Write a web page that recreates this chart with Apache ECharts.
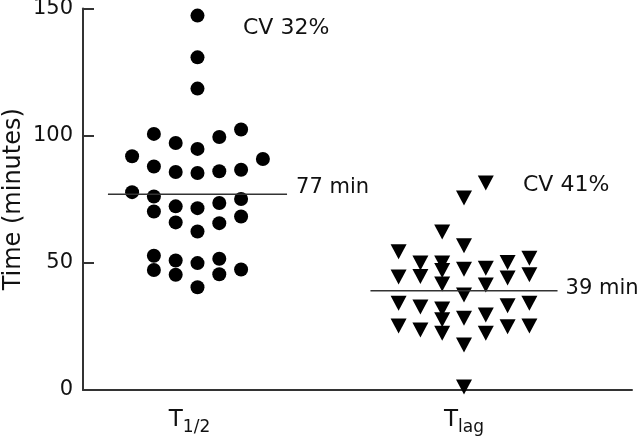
<!DOCTYPE html>
<html>
<head>
<meta charset="utf-8">
<script src="https://cdn.jsdelivr.net/npm/echarts@6/dist/echarts.min.js"></script>
<style>html,body{margin:0;padding:0;background:#fff}#c{width:640px;height:436px}</style>
</head>
<body>
<div id="c"></div>
<script>
// ---- data ----
const categories = ['T1/2', 'Tlag'];
const t12Values = [147.2,130.8,118.5,100.7,102.4,97.1,99.5,94.8,91.9,90.8,87.9,85.7,85.3,86.0,86.6,77.8,76.1,75.1,70.2,72.2,71.5,73.5,68.2,65.9,65.6,62.3,52.8,47.2,50.9,45.3,49.9,51.6,45.5,47.4,40.4];
const t12Lanes  = [0,0,0,-2,2,-1,1,0,-3,3,-2,-1,0,1,2,-3,-2,2,-2,-1,0,1,2,-1,1,0,-2,-2,-1,-1,0,1,1,2,0];
const tlagValues = [62.1,54.4,56.7,49.9,44.6,44.4,49.9,47.0,41.7,47.5,37.4,34.1,32.6,31.8,27.6,22.3,28.2,25.2,23.6,17.7,47.9,41.3,50.1,44.0,51.8,45.3,33.1,34.1,29.5,22.3,24.9,25.2,81.4,75.5,1.2];
const tlagLanes  = [-1,-3,0,-2,-2,-3,-1,-1,-1,0,0,-3,-2,-1,-1,-1,0,-3,-2,0,1,1,2,2,3,3,2,3,1,1,2,3,1,0,0];
const meanValues = [77, 39];
const meanLabels = ['77 min', '39 min'];
const cvLabels = ['CV 32%', 'CV 41%'];
const yTicks = [0, 50, 100, 150];

// ---- layout / style ----
const laneStep = 0.0818;
const meanHalf = [0.336, 0.351];
const axisColor = '#333';
const textColor = '#111';
const font = 'DejaVu Sans';

function pts(vals, lanes, g) {
  return vals.map((v, i) => [g + lanes[i] * laneStep, v]);
}
function meanLine(i) {
  const g = i + 1;
  return [[g - meanHalf[i], meanValues[i]], [g + meanHalf[i], meanValues[i]]];
}

const chart = echarts.init(document.getElementById('c'), null, {renderer: 'canvas'});
chart.setOption({
  animation: false,
  backgroundColor: '#fff',
  grid: {left: 83, right: 8, top: 8.5, bottom: 46, containLabel: false, outerBoundsMode: 'none'},
  xAxis: {
    type: 'value', min: 0.5704, max: 2.6304,
    splitLine: {show: false},
    axisLine: {show: true, lineStyle: {color: axisColor, width: 2}},
    axisTick: {show: false},
    axisLabel: {
      show: true, customValues: [1, 2], margin: 15,
      formatter: function (v) {
        const c = categories[Math.round(v) - 1];
        if (c === 'T1/2') return '{t|T}{h|1/2}';
        return '{t|T}{s|lag}';
      },
      rich: {
        t: {fontFamily: font, fontSize: 23, color: textColor},
        s: {fontFamily: font, fontSize: 17, color: textColor, padding: [14, 0, 0, 0]},
        h: {fontFamily: font, fontSize: 17, color: textColor, padding: [14, 16, 0, 0]}
      }
    }
  },
  yAxis: {
    type: 'value', min: yTicks[0], max: yTicks[yTicks.length - 1], interval: 50,
    splitLine: {show: false},
    axisLine: {show: true, lineStyle: {color: axisColor, width: 2}},
    axisTick: {show: true, inside: true, length: 11, lineStyle: {color: axisColor, width: 2}},
    axisLabel: {fontFamily: font, fontSize: 21, color: textColor, margin: 10},
    name: 'Time (minutes)', nameLocation: 'middle', nameGap: 57, nameMoveOverlap: false,
    nameTextStyle: {fontFamily: font, fontSize: 24, color: textColor}
  },
  series: [
    {type: 'scatter', data: pts(t12Values, t12Lanes, 1), symbol: 'circle', symbolSize: 14,
     itemStyle: {color: '#000', opacity: 1}},
    {type: 'scatter', data: pts(tlagValues, tlagLanes, 2), symbol: 'triangle', symbolRotate: 180,
     symbolSize: [16, 15], itemStyle: {color: '#000', opacity: 1}},
    {type: 'line', data: meanLine(0), symbol: 'none', lineStyle: {color: axisColor, width: 1.5},
     endLabel: {show: true, formatter: meanLabels[0], distance: 9, offset: [0, -7],
       fontFamily: font, fontSize: 21, color: textColor}},
    {type: 'line', data: meanLine(1), symbol: 'none', lineStyle: {color: axisColor, width: 1.5},
     endLabel: {show: true, formatter: meanLabels[1], distance: 8, offset: [0, -2],
       fontFamily: font, fontSize: 21, color: textColor}}
  ],
  graphic: [
    {type: 'text', x: 243, y: 28, style: {text: cvLabels[0], font: '22px "DejaVu Sans"', fill: textColor, verticalAlign: 'middle', textVerticalAlign: 'middle'}},
    {type: 'text', x: 523, y: 185, style: {text: cvLabels[1], font: '22px "DejaVu Sans"', fill: textColor, verticalAlign: 'middle', textVerticalAlign: 'middle'}}
  ]
});
</script>
</body>
</html>
